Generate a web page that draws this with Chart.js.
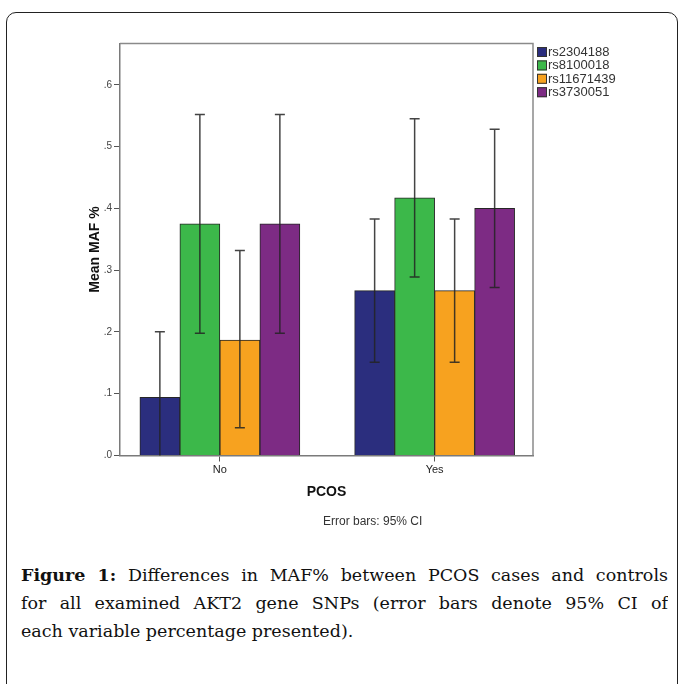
<!DOCTYPE html>
<html>
<head>
<meta charset="utf-8">
<script src="https://cdn.jsdelivr.net/npm/chart.js@4/dist/chart.umd.min.js"></script>
<style>
  html,body{margin:0;padding:0;background:#fff;overflow:hidden;width:680px;height:684px;}
  #frame{position:absolute;left:6px;top:12px;width:670px;height:720px;border:1.5px solid #222;border-radius:10px;}
  #c{position:absolute;left:0;top:0;}
  #ebNote{position:absolute;left:323px;top:514px;font:12px "Liberation Sans",Arial,sans-serif;color:#333;white-space:nowrap;}
  #caption{position:absolute;left:21px;top:561px;width:647px;font-family:"DejaVu Serif",serif;font-size:17.5px;color:#111;}
  #caption div{height:28px;line-height:28px;white-space:nowrap;}
  #caption .j{text-align:justify;text-align-last:justify;white-space:normal;overflow:hidden;}
</style>
</head>
<body>
<div id="frame"></div>
<canvas id="c" width="680" height="540"></canvas>
<div id="ebNote">Error bars: 95% CI</div>
<div id="caption">
  <div class="j"><b>Figure 1:</b> Differences in MAF% between PCOS cases and controls</div>
  <div class="j">for all examined AKT2 gene SNPs (error bars denote 95% CI of</div>
  <div>each variable percentage presented).</div>
</div>
<script>
// groups on the x axis
const categories = ['No', 'Yes'];
// one series per SNP
const seriesNames = ['rs2304188', 'rs8100018', 'rs11671439', 'rs3730051'];
// mean MAF per series, [No, Yes]
const meanValues = [
  [0.094, 0.267],
  [0.375, 0.417],
  [0.187, 0.267],
  [0.375, 0.400]
];
// 95% CI bounds, [No, Yes]
const ciLower = [
  [-0.012, 0.151],
  [0.198, 0.289],
  [0.045, 0.151],
  [0.198, 0.272]
];
const ciUpper = [
  [0.2005, 0.383],
  [0.552, 0.545],
  [0.332, 0.383],
  [0.552, 0.528]
];
const yTickValues = [0, 0.1, 0.2, 0.3, 0.4, 0.5, 0.6];
const yTickLabels = ['.0', '.1', '.2', '.3', '.4', '.5', '.6'];

const colors = ['#2b2e7e', '#3cb84a', '#f7a21f', '#7d2b84'];
const SANS = '"Liberation Sans", Arial, sans-serif';

const datasets = seriesNames.map((name, i) => ({
  label: name,
  data: categories.map((c, j) => ({x: j, y: meanValues[i][j]})),
  backgroundColor: colors[i],
  borderColor: '#262626',
  borderWidth: 1,
  barThickness: 40
}));

// draws CI whiskers on top of the bars
const errorBars = {
  id: 'errorBars',
  afterDatasetsDraw(chart){
    const {ctx, chartArea: a, scales: {y}} = chart;
    ctx.save();
    ctx.beginPath(); ctx.rect(a.left, a.top, a.right - a.left, a.bottom - a.top); ctx.clip();
    ctx.strokeStyle = 'rgba(35,35,35,0.85)';
    ctx.lineWidth = 1.5;
    chart.data.datasets.forEach((ds, i) => {
      chart.getDatasetMeta(i).data.forEach((bar, j) => {
        const x = bar.x, hi = y.getPixelForValue(ciUpper[i][j]), lo = y.getPixelForValue(ciLower[i][j]);
        ctx.beginPath();
        ctx.moveTo(x, lo); ctx.lineTo(x, hi);
        ctx.moveTo(x - 5, hi); ctx.lineTo(x + 5, hi);
        ctx.moveTo(x - 5, lo); ctx.lineTo(x + 5, lo);
        ctx.stroke();
      });
    });
    ctx.restore();
  }
};

// plot frame and legend at the right
const frameLegend = {
  id: 'frameLegend',
  afterDraw(chart){
    const {ctx, chartArea: a} = chart;
    ctx.save();
    ctx.strokeStyle = '#8a8a8a';
    ctx.lineWidth = 1.5;
    ctx.beginPath();
    ctx.moveTo(a.left, a.top); ctx.lineTo(a.right, a.top); ctx.lineTo(a.right, a.bottom);
    ctx.stroke();
    ctx.font = '13px ' + SANS;
    ctx.textBaseline = 'middle';
    chart.data.datasets.forEach((ds, i) => {
      const cy = 52 + i * 13.4;
      ctx.fillStyle = ds.backgroundColor;
      ctx.fillRect(a.right + 4, cy - 5, 10, 10);
      ctx.strokeStyle = '#333'; ctx.lineWidth = 1;
      ctx.strokeRect(a.right + 4.5, cy - 4.5, 9, 9);
      ctx.fillStyle = '#333';
      ctx.fillText(ds.label, a.right + 15, cy + 0.5);
    });
    ctx.restore();
  }
};

new Chart(document.getElementById('c'), {
  type: 'bar',
  data: {datasets},
  plugins: [errorBars, frameLegend],
  options: {
    responsive: false,
    animation: false,
    devicePixelRatio: 1,
    layout: {padding: {left: 0, top: 43.5, right: 147, bottom: 0}},
    plugins: {legend: {display: false}, tooltip: {enabled: false}},
    scales: {
      x: {
        type: 'linear',
        offset: false,
        min: -0.465, max: 1.458,
        afterBuildTicks: s => { s.ticks = categories.map((c, i) => ({value: i})); },
        afterFit: s => { s.height = 84.5; },
        ticks: {callback: v => categories[v], font: {size: 11, family: SANS}, color: '#222', padding: 2, maxRotation: 0, autoSkip: false},
        grid: {offset: false, drawOnChartArea: false, tickLength: 6, color: '#555'},
        border: {color: '#7a7a7a', width: 1.5},
        title: {display: true, text: 'PCOS', color: '#111', font: {size: 14, weight: 'bold', family: SANS}, padding: {top: 0, bottom: 39.6}}
      },
      y: {
        min: 0, max: 0.667,
        afterBuildTicks: s => { s.ticks = yTickValues.map(v => ({value: v})); },
        afterFit: s => { s.width = 120; },
        ticks: {callback: (v, i) => yTickLabels[i], font: {size: 10, family: SANS}, color: '#444', padding: 2},
        grid: {drawOnChartArea: false, tickLength: 6, color: '#555'},
        border: {color: '#7a7a7a', width: 1.5},
        title: {display: true, text: 'Mean MAF %', color: '#111', font: {size: 14, weight: 'bold', family: SANS}, padding: {top: 86.6, bottom: 0}}
      }
    }
  }
});
</script>
</body>
</html>
